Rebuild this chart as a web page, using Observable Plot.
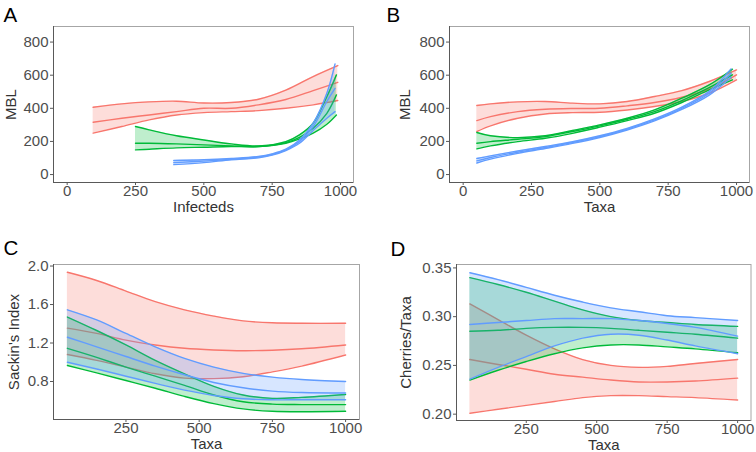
<!DOCTYPE html>
<html>
<head>
<meta charset="utf-8">
<script src="https://cdn.jsdelivr.net/npm/d3@7"></script>
<script src="https://cdn.jsdelivr.net/npm/@observablehq/plot@0.6"></script>
<style>
  html, body { margin: 0; padding: 0; background: #fff; }
  #wrap { position: relative; width: 756px; height: 452px; overflow: hidden; }
  #wrap > svg { position: absolute; }
</style>
</head>
<body>
<div id="wrap"></div>
<script>
// ---------- Panel A: MBL vs Infecteds ----------
const aRedX   = [95, 200, 300, 400, 500, 600, 700, 800, 900, 990];
const aRedHi  = [406, 427, 439, 443, 432, 435, 455, 510, 592, 658];
const aRedMid = [316, 340, 360, 380, 400, 400, 421, 453, 507, 557];
const aRedLo  = [250, 290, 330, 360, 374, 380, 386, 400, 421, 447];

const aGreenX   = [250, 300, 400, 500, 600, 700, 800, 850, 900, 950, 985];
const aGreenHi  = [290, 270, 234, 209, 185, 173, 199, 240, 310, 470, 602];
const aGreenMid = [189, 189, 185, 179, 173, 169, 193, 225, 280, 370, 481];
const aGreenLo  = [149, 153, 161, 165, 169, 169, 189, 215, 250, 304, 360];

const aBlueX   = [390, 500, 600, 700, 750, 800, 850, 900, 950, 980];
const aBlueHi  = [85, 89, 97, 109, 125, 153, 209, 310, 491, 668];
const aBlueMid = [72, 81, 92, 105, 121, 149, 199, 290, 441, 520];
const aBlueLo  = [60, 72, 89, 101, 117, 145, 189, 266, 340, 380];

// ---------- Panel B: MBL vs Taxa ----------
const bRedX   = [50, 100, 200, 300, 400, 500, 600, 700, 800, 900, 1000];
const bRedHi  = [417, 427, 439, 441, 431, 427, 441, 471, 507, 562, 632];
const bRedMid = [326, 350, 380, 394, 399, 400, 415, 435, 467, 515, 602];
const bRedLo  = [260, 294, 340, 366, 374, 376, 390, 411, 441, 491, 572];

const bGreenX   = [50, 100, 200, 300, 400, 500, 600, 700, 800, 900, 985];
const bGreenHi  = [254, 234, 223, 234, 266, 300, 340, 390, 461, 541, 636];
const bGreenMid = [189, 199, 213, 229, 260, 294, 334, 380, 447, 525, 602];
const bGreenLo  = [155, 173, 199, 219, 249, 286, 326, 370, 435, 511, 572];

const bBlueX   = [50, 100, 200, 300, 400, 500, 600, 700, 800, 900, 980];
const bBlueHi  = [97, 113, 142, 169, 198, 234, 279, 336, 407, 502, 638];
const bBlueMid = [83, 103, 135, 163, 193, 229, 274, 330, 400, 491, 612];
const bBlueLo  = [70, 93, 128, 157, 188, 224, 269, 324, 393, 480, 588];

// ---------- Panels C and D share the Taxa grid ----------
const cdTaxa = [50, 150, 250, 350, 450, 550, 650, 750, 850, 1000];

const cRedHi    = [1.935, 1.85, 1.74, 1.63, 1.545, 1.48, 1.43, 1.41, 1.405, 1.405];
const cRedMid   = [1.355, 1.30, 1.23, 1.18, 1.145, 1.128, 1.12, 1.125, 1.14, 1.18];
const cRedLo    = [1.08, 1.02, 0.95, 0.88, 0.835, 0.83, 0.85, 0.90, 0.96, 1.075];
const cGreenHi  = [1.47, 1.33, 1.18, 1.02, 0.88, 0.75, 0.66, 0.625, 0.635, 0.665];
const cGreenMid = [1.145, 1.05, 0.95, 0.855, 0.76, 0.66, 0.59, 0.565, 0.56, 0.56];
const cGreenLo  = [0.966, 0.89, 0.81, 0.73, 0.645, 0.57, 0.515, 0.49, 0.485, 0.49];
const cBlueHi   = [1.545, 1.44, 1.30, 1.16, 1.04, 0.95, 0.885, 0.845, 0.82, 0.80];
const cBlueMid  = [1.26, 1.16, 1.06, 0.96, 0.87, 0.79, 0.735, 0.70, 0.685, 0.68];
const cBlueLo   = [1.0, 0.93, 0.855, 0.78, 0.71, 0.655, 0.62, 0.61, 0.61, 0.61];

const dRedHi    = [0.313, 0.297, 0.281, 0.267, 0.256, 0.250, 0.248, 0.249, 0.252, 0.256];
const dRedMid   = [0.256, 0.251, 0.246, 0.241, 0.238, 0.235, 0.233, 0.233, 0.234, 0.237];
const dRedLo    = [0.201, 0.205, 0.209, 0.213, 0.217, 0.219, 0.219, 0.218, 0.217, 0.2145];
const dGreenHi  = [0.340, 0.333, 0.325, 0.316, 0.307, 0.300, 0.296, 0.294, 0.292, 0.290];
const dGreenMid = [0.285, 0.286, 0.288, 0.289, 0.289, 0.288, 0.286, 0.284, 0.282, 0.278];
const dGreenLo  = [0.235, 0.245, 0.254, 0.262, 0.268, 0.271, 0.271, 0.269, 0.267, 0.263];
const dBlueHi   = [0.345, 0.338, 0.330, 0.322, 0.315, 0.309, 0.305, 0.301, 0.299, 0.296];
const dBlueMid  = [0.292, 0.294, 0.296, 0.298, 0.298, 0.298, 0.296, 0.293, 0.289, 0.280];
const dBlueLo   = [0.236, 0.248, 0.259, 0.270, 0.278, 0.282, 0.281, 0.276, 0.270, 0.262];

// ---------- Axis ticks and labels ----------
const mblTicks = [0, 200, 400, 600, 800];
const xTicksAB = [0, 250, 500, 750, 1000];
const xTicksCD = [250, 500, 750, 1000];
const sackinTicks = [0.8, 1.2, 1.6, 2.0];
const cherryTicks = [0.20, 0.25, 0.30, 0.35];
const panelLetters = ["A", "B", "C", "D"];
const xTitles = ["Infecteds", "Taxa", "Taxa", "Taxa"];
const yTitles = ["MBL", "MBL", "Sackin's Index", "Cherries/Taxa"];

const RED = "#F8766D", GREEN = "#00BA38", BLUE = "#619CFF";
const FONT = "'Liberation Sans', Arial, Helvetica, sans-serif";

function rows(x, lo, mid, hi) {
  return x.map((v, i) => ({x: v, lo: lo[i], mid: mid[i], hi: hi[i]}));
}

function panel(o) {
  const marks = [];
  for (const s of o.series) {
    const r = rows(s.x, s.lo, s.mid, s.hi);
    marks.push(Plot.areaY(r, {x: "x", y1: "lo", y2: "hi", fill: s.color, fillOpacity: 0.25, curve: "catmull-rom"}));
    for (const k of ["lo", "mid", "hi"]) {
      marks.push(Plot.lineY(r, {x: "x", y: k, stroke: s.color, strokeWidth: 1.4, curve: "catmull-rom"}));
    }
  }
  marks.push(Plot.frame({stroke: "#a6a6a6"}));
  marks.push(Plot.ruleX([o.xDomain[0]], {stroke: "#595959"}));
  marks.push(Plot.ruleY([o.yDomain[0]], {stroke: "#595959"}));
  marks.push(Plot.axisX(o.xTicks, {tickSize: 3, tickPadding: 0, fontSize: 15, fill: "#4d4d4d", stroke: "#595959", label: null, tickFormat: d3.format("d")}));
  marks.push(Plot.axisY(o.yTicks, {tickSize: 3, tickPadding: 2, fontSize: 15, fill: "#4d4d4d", stroke: "#595959", label: null, tickFormat: o.yFormat}));
  marks.push(Plot.text([o.xTitle], {text: d => d, frameAnchor: "bottom", dy: 24.5, textAnchor: "middle", lineAnchor: "middle", fontSize: 15, fill: "#333"}));
  marks.push(Plot.text([o.yTitle], {text: d => d, frameAnchor: "left", dx: o.yTitleDx, rotate: -90, textAnchor: "middle", lineAnchor: "middle", fontSize: 15, fill: "#333"}));
  marks.push(Plot.text([o.letter], {text: d => d, frameAnchor: "top-left", dx: o.letterDx, dy: o.letterDy, textAnchor: "start", lineAnchor: "bottom", fontSize: 20.5, fill: "#000"}));
  const svg = Plot.plot({
    width: 378, height: 226,
    marginLeft: o.m[0], marginRight: o.m[1], marginTop: o.m[2], marginBottom: o.m[3],
    x: {domain: o.xDomain},
    y: {domain: o.yDomain},
    style: {fontFamily: FONT, fontSize: "15px", background: "transparent", overflow: "visible"},
    marks
  });
  svg.style.left = o.left + "px";
  svg.style.top = o.top + "px";
  document.getElementById("wrap").appendChild(svg);
}

const fmtInt = d3.format("d");
panel({
  left: 0, top: 0, m: [53, 25, 26, 44],
  xDomain: [-50, 1047.5], yDomain: [-48, 894],
  xTicks: xTicksAB, yTicks: mblTicks, yFormat: fmtInt,
  xTitle: xTitles[0], yTitle: yTitles[0], yTitleDx: -42.5,
  letter: panelLetters[0], letterDx: -50, letterDy: -4.5,
  series: [
    {color: RED, x: aRedX, lo: aRedLo, mid: aRedMid, hi: aRedHi},
    {color: GREEN, x: aGreenX, lo: aGreenLo, mid: aGreenMid, hi: aGreenHi},
    {color: BLUE, x: aBlueX, lo: aBlueLo, mid: aBlueMid, hi: aBlueHi}
  ]
});
panel({
  left: 378, top: 0, m: [71, 7, 26, 44],
  xDomain: [-50, 1047.5], yDomain: [-48, 894],
  xTicks: xTicksAB, yTicks: mblTicks, yFormat: fmtInt,
  xTitle: xTitles[1], yTitle: yTitles[1], yTitleDx: -44.7,
  letter: panelLetters[1], letterDx: -63, letterDy: -5,
  series: [
    {color: RED, x: bRedX, lo: bRedLo, mid: bRedMid, hi: bRedHi},
    {color: GREEN, x: bGreenX, lo: bGreenLo, mid: bGreenMid, hi: bGreenHi},
    {color: BLUE, x: bBlueX, lo: bBlueLo, mid: bBlueMid, hi: bBlueHi}
  ]
});
panel({
  left: 0, top: 226, m: [53, 19, 38, 33],
  xDomain: [2.5, 1047.5], yDomain: [0.405, 2.016],
  xTicks: xTicksCD, yTicks: sackinTicks, yFormat: d3.format(".1f"),
  xTitle: xTitles[2], yTitle: yTitles[2], yTitleDx: -39,
  letter: panelLetters[2], letterDx: -50, letterDy: -10,
  series: [
    {color: RED, x: cdTaxa, lo: cRedLo, mid: cRedMid, hi: cRedHi},
    {color: GREEN, x: cdTaxa, lo: cGreenLo, mid: cGreenMid, hi: cGreenHi},
    {color: BLUE, x: cdTaxa, lo: cBlueLo, mid: cBlueMid, hi: cBlueHi}
  ]
});
panel({
  left: 378, top: 226, m: [78, 5.5, 38, 32],
  xDomain: [2.5, 1047.5], yDomain: [0.1935, 0.3535],
  xTicks: xTicksCD, yTicks: cherryTicks, yFormat: d3.format(".2f"),
  xTitle: xTitles[3], yTitle: yTitles[3], yTitleDx: -50,
  letter: panelLetters[3], letterDx: -66, letterDy: -9,
  series: [
    {color: RED, x: cdTaxa, lo: dRedLo, mid: dRedMid, hi: dRedHi},
    {color: GREEN, x: cdTaxa, lo: dGreenLo, mid: dGreenMid, hi: dGreenHi},
    {color: BLUE, x: cdTaxa, lo: dBlueLo, mid: dBlueMid, hi: dBlueHi}
  ]
});
</script>
</body>
</html>
